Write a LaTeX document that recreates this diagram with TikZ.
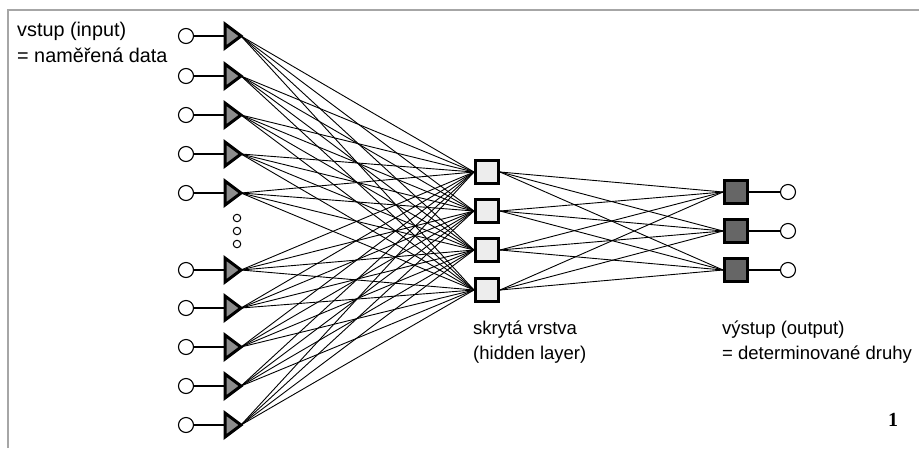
\documentclass[tikz,border=0pt]{standalone}
\usepackage{fontspec}
\setmainfont{Liberation Sans}
\newfontfamily\numfont{Liberation Serif}
\begin{document}
\begin{tikzpicture}[x=1pt,y=-1pt,
  inp/.style={circle,draw=black,line width=1.1pt,fill=white,minimum size=15pt,inner sep=0pt},
  tri/.style={draw=black,line width=3pt,line join=miter,fill=black!45},
  hid/.style={rectangle,draw=black,line width=3.8pt,fill=black!7,minimum size=23pt,inner sep=0pt},
  outn/.style={rectangle,draw=black,line width=3.8pt,fill=black!60,minimum size=23pt,inner sep=0pt},
  conn/.style={draw=black,line width=0.9pt},
  stub/.style={draw=black,line width=1.1pt},
  lbl/.style={anchor=north west,align=left,inner sep=0pt,font=\fontsize{18.5}{25}\selectfont},
  dotn/.style={circle,draw=black,line width=1pt,fill=white,minimum size=7.5pt,inner sep=0pt}]
\useasboundingbox (0,0) rectangle (919,448);
\draw[black!35,line width=2pt] (8,448) -- (8,10) -- (919,10);
% connectors first
\foreach \i/\y in {1/36,2/76,3/115,4/154,5/193,6/270,7/308,8/347,9/386,10/425}{
  \coordinate (t\i) at (241,\y);
}
\foreach \j/\y in {1/172,2/211,3/250,4/290}{
  \coordinate (hw\j) at (474,\y);
  \coordinate (he\j) at (500,\y);
}
\foreach \k/\y in {1/192,2/231,3/270}{
  \coordinate (ow\k) at (723,\y);
}
\foreach \i in {1,...,10}{
  \foreach \j in {1,...,4}{
    \draw[conn] (t\i) -- (hw\j);
  }
}
\foreach \j in {1,...,4}{
  \foreach \k in {1,...,3}{
    \draw[conn] (he\j) -- (ow\k);
  }
}
% input units
\foreach \i/\y in {1/36,2/76,3/115,4/154,5/193,6/270,7/308,8/347,9/386,10/425}{
  \node[inp] (c\i) at (186,\y) {};
  \coordinate (b\i) at (225,\y);
  \draw[stub] (c\i) -- (b\i);
  \draw[tri] (225,\y-12) -- (t\i) -- (225,\y+12) -- cycle;
}
\node[dotn] (d1) at (237,218) {};
\node[dotn] (d2) at (237,231) {};
\node[dotn] (d3) at (237,244) {};
% hidden units
\foreach \j/\y in {1/172,2/211,3/250,4/290}{
  \node[hid] (h\j) at (487,\y) {};
}
% output units
\foreach \k/\y in {1/192,2/231,3/270}{
  \node[outn] (o\k) at (736,\y) {};
  \node[inp] (oc\k) at (788,\y) {};
  \draw[stub] (o\k) -- (oc\k);
}
\node[lbl,font=\fontsize{19.8}{26}\selectfont] (lin) at (17,22) {vstup (input)\\= naměřená data};
\node[lbl] (lhid) at (473,321) {skrytá vrstva\\(hidden layer)};
\node[lbl] (lout) at (722,321) {výstup (output)\\= determinované druhy};
\node[font=\numfont\bfseries\fontsize{20}{24}\selectfont,inner sep=0pt] (num) at (893,420) {1};
\end{tikzpicture}
\end{document}
